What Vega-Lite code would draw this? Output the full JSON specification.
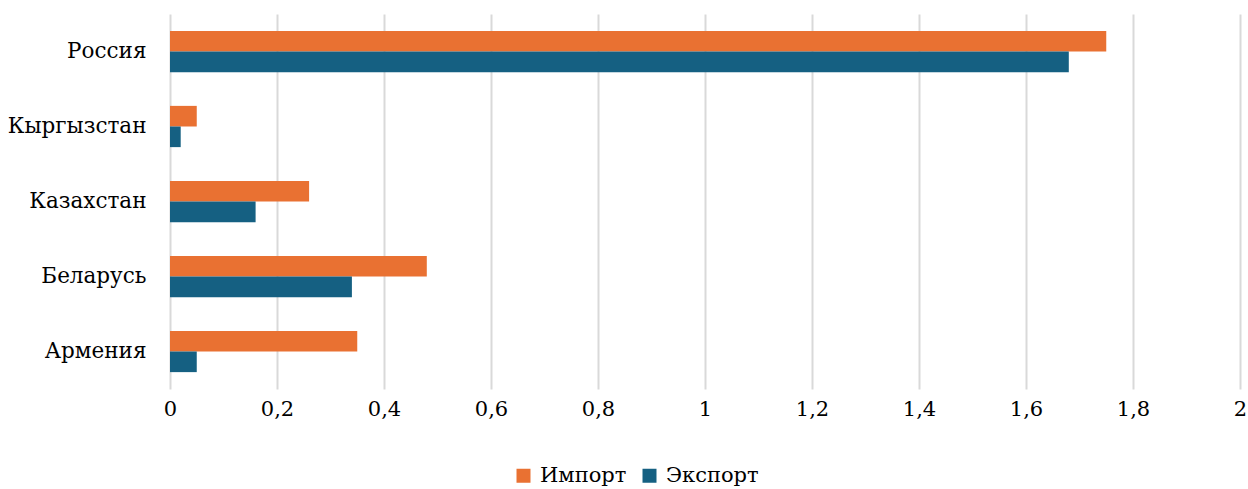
{
  "$schema": "https://vega.github.io/schema/vega-lite/v6.json",
  "autosize": {"type": "none"},
  "padding": {"left": 170, "top": 14, "right": 8, "bottom": 100},
  "width": 1070,
  "height": 375,
  "background": "white",
  "config": {
    "font": "DejaVu Serif",
    "view": {"stroke": null}
  },
  "data": {
    "values": [
      {"country": "Россия", "type": "Импорт", "value": 1.75},
      {"country": "Россия", "type": "Экспорт", "value": 1.68},
      {"country": "Кыргызстан", "type": "Импорт", "value": 0.05},
      {"country": "Кыргызстан", "type": "Экспорт", "value": 0.02},
      {"country": "Казахстан", "type": "Импорт", "value": 0.26},
      {"country": "Казахстан", "type": "Экспорт", "value": 0.16},
      {"country": "Беларусь", "type": "Импорт", "value": 0.48},
      {"country": "Беларусь", "type": "Экспорт", "value": 0.34},
      {"country": "Армения", "type": "Импорт", "value": 0.35},
      {"country": "Армения", "type": "Экспорт", "value": 0.05}
    ]
  },
  "mark": {"type": "bar"},
  "encoding": {
    "y": {
      "field": "country",
      "type": "nominal",
      "sort": ["Россия", "Кыргызстан", "Казахстан", "Беларусь", "Армения"],
      "scale": {"paddingInner": 0.45, "paddingOuter": 0.225},
      "axis": {
        "title": null,
        "domain": false,
        "ticks": false,
        "labelFontSize": 21.5,
        "labelColor": "#000000",
        "labelPadding": 24,
        "labelFont": "DejaVu Serif"
      }
    },
    "yOffset": {
      "field": "type",
      "type": "nominal",
      "sort": ["Импорт", "Экспорт"]
    },
    "x": {
      "field": "value",
      "type": "quantitative",
      "scale": {"domain": [0, 2], "nice": false},
      "axis": {
        "title": null,
        "domain": false,
        "ticks": false,
        "values": [0, 0.2, 0.4, 0.6, 0.8, 1, 1.2, 1.4, 1.6, 1.8, 2],
        "labelExpr": "replace(format(datum.value, '.1~f'), '.', ',')",
        "labelFontSize": 21,
        "labelFlush": false,
        "labelColor": "#000000",
        "labelPadding": 9,
        "labelFont": "DejaVu Serif",
        "grid": true,
        "gridColor": "#d9d9d9",
        "gridWidth": 2
      }
    },
    "color": {
      "field": "type",
      "type": "nominal",
      "sort": ["Импорт", "Экспорт"],
      "scale": {"domain": ["Импорт", "Экспорт"], "range": ["#E97132", "#156082"]},
      "legend": {
        "title": null,
        "orient": "none",
        "legendX": 343,
        "legendY": 451,
        "direction": "horizontal",
        "symbolType": "square",
        "symbolSize": 196,
        "symbolStrokeWidth": 0,
        "labelFontSize": 21,
        "labelColor": "#000000",
        "labelFont": "DejaVu Serif",
        "labelOffset": 6,
        "columnPadding": 12
      }
    }
  }
}
